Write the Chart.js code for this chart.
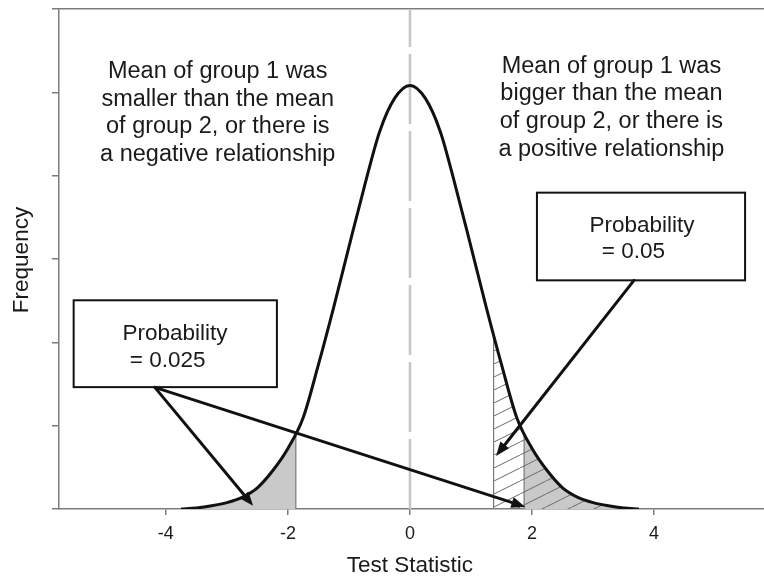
<!DOCTYPE html>
<html lang="en">
<head>
<meta charset="UTF-8">
<title>Test Statistic</title>
<style>
  html, body { margin: 0; padding: 0; background: #fff; }
</style>
</head>
<body>
<canvas id="distChart" width="764" height="576"></canvas>
<script src="https://cdn.jsdelivr.net/npm/chart.js"></script>
<script>
// curve (height of the bell at each test statistic)
const xValues = [-3.75, -3.5, -3.25, -3, -2.75, -2.5, -2.25, -2, -1.75, -1.5, -1.25, -1, -0.75, -0.5, -0.25,
                 0, 0.25, 0.5, 0.75, 1, 1.25, 1.5, 1.75, 2, 2.25, 2.5, 2.75, 3, 3.25, 3.5, 3.75];
const frequency = [0, 0.001, 0.003, 0.006, 0.011, 0.020, 0.036, 0.057, 0.086, 0.136, 0.190, 0.247, 0.303, 0.355, 0.387,
                   0.399, 0.387, 0.355, 0.303, 0.247, 0.190, 0.136, 0.086, 0.057, 0.036, 0.020, 0.011, 0.006, 0.003, 0.001, 0];
const xTicks = [-4, -2, 0, 2, 4];
const yTicks = [0, 0.0785, 0.157, 0.2355, 0.314, 0.3925, 0.471];

// where the shaded tails begin and the curve height there
const leftCut = [-1.87, 0.072];
const hatchCut = [1.37, 0.163];
const rightCut = [1.87, 0.072];

// notes, boxes and arrows (in data units)
const leftNote = ['Mean of group 1 was', 'smaller than the mean', 'of group 2, or there is', 'a negative relationship'];
const rightNote = ['Mean of group 1 was', 'bigger than the mean', 'of group 2, or there is', 'a positive relationship'];
const noteAnchors = [[-3.15, 0.406], [3.30, 0.411]];
const boxes = [[-5.51, 0.1966, -2.18, 0.1148], [2.08, 0.298, 5.49, 0.2154]];
const boxLabels = [['Probability', -3.85, 0.159], ['= 0.025', -3.97, 0.134], ['Probability', 3.80, 0.261], ['= 0.05', 3.66, 0.236]];
const arrows = [[-4.18, 0.1146, -2.57, 0.003], [-4.18, 0.1146, 1.89, 0.002], [3.67, 0.2154, 1.41, 0.050]];

const FONT = '"Liberation Sans", Arial, Helvetica, sans-serif';
const AXIS_GREY = '#7c7c7c';

Chart.defaults.font.family = FONT;
Chart.defaults.color = '#222';

const curve = xValues.map((x, i) => ({ x: x, y: frequency[i] }));

function leftTail(cut) {
  const pts = curve.filter(p => p.x < cut[0]);
  pts.push({ x: cut[0], y: cut[1] });
  return pts;
}
function rightTail(cut) {
  return [{ x: cut[0], y: cut[1] }].concat(curve.filter(p => p.x > cut[0]));
}
function edge(cut) {
  return [{ x: cut[0], y: 0 }, { x: cut[0], y: cut[1] }];
}

function hatchPattern() {
  const c = document.createElement('canvas');
  c.width = 26; c.height = 13;
  const g = c.getContext('2d');
  g.strokeStyle = '#6a6a6a';
  g.lineWidth = 1;
  g.beginPath();
  g.moveTo(-2, 14); g.lineTo(28, -1);
  g.stroke();
  return g.createPattern(c, 'repeat');
}

function arrow(ctx, x1, y1, x2, y2) {
  const a = Math.atan2(y2 - y1, x2 - x1);
  const len = 14, w = 5.5;
  const bx = x2 - len * Math.cos(a), by = y2 - len * Math.sin(a);
  ctx.beginPath();
  ctx.moveTo(x1, y1);
  ctx.lineTo(bx + 2 * Math.cos(a), by + 2 * Math.sin(a));
  ctx.stroke();
  ctx.beginPath();
  ctx.moveTo(x2, y2);
  ctx.lineTo(bx + w * Math.sin(a), by - w * Math.cos(a));
  ctx.lineTo(bx - w * Math.sin(a), by + w * Math.cos(a));
  ctx.closePath();
  ctx.fill();
}

const notesPlugin = {
  id: 'notes',
  afterDatasetsDraw(chart) {
    const ctx = chart.ctx;
    const xs = chart.scales.x, ys = chart.scales.y;
    ctx.save();
    ctx.fillStyle = '#1a1a1a';
    ctx.textAlign = 'center';
    ctx.textBaseline = 'alphabetic';
    ctx.font = '23.5px ' + FONT;
    [leftNote, rightNote].forEach((lines, n) => {
      const cx = xs.getPixelForValue(noteAnchors[n][0]);
      const cy = ys.getPixelForValue(noteAnchors[n][1]);
      lines.forEach((t, i) => ctx.fillText(t, cx, cy + i * 27.7));
    });

    ctx.strokeStyle = '#111';
    ctx.lineWidth = 2;
    boxes.forEach(b => {
      const x1 = xs.getPixelForValue(b[0]), y1 = ys.getPixelForValue(b[1]);
      const x2 = xs.getPixelForValue(b[2]), y2 = ys.getPixelForValue(b[3]);
      ctx.fillStyle = '#fff';
      ctx.fillRect(x1, y1, x2 - x1, y2 - y1);
      ctx.strokeRect(x1, y1, x2 - x1, y2 - y1);
    });
    ctx.fillStyle = '#1a1a1a';
    ctx.font = '22.5px ' + FONT;
    boxLabels.forEach(l => ctx.fillText(l[0], xs.getPixelForValue(l[1]), ys.getPixelForValue(l[2])));

    ctx.strokeStyle = '#111';
    ctx.fillStyle = '#111';
    ctx.lineWidth = 3;
    ctx.lineCap = 'round';
    arrows.forEach(a => arrow(ctx,
      xs.getPixelForValue(a[0]), ys.getPixelForValue(a[1]),
      xs.getPixelForValue(a[2]), ys.getPixelForValue(a[3])));

    // axis titles
    ctx.fillStyle = '#1a1a1a';
    ctx.font = '22.5px ' + FONT;
    ctx.fillText('Test Statistic', xs.getPixelForValue(0), 572);
    ctx.translate(28, (chart.chartArea.top + chart.chartArea.bottom) / 2 + 1);
    ctx.rotate(-Math.PI / 2);
    ctx.fillText('Frequency', 0, 0);
    ctx.restore();
  }
};

const line = { showLine: true, pointRadius: 0, fill: false };

new Chart(document.getElementById('distChart'), {
  type: 'scatter',
  data: {
    datasets: [
      Object.assign({ data: curve, borderColor: '#111', borderWidth: 3, cubicInterpolationMode: 'monotone', order: 0 }, line),
      Object.assign({ data: rightTail(hatchCut), borderWidth: 0, fill: 'origin', backgroundColor: hatchPattern(),
        cubicInterpolationMode: 'monotone', order: 1 }, { showLine: true, pointRadius: 0 }),
      Object.assign({ data: leftTail(leftCut), borderWidth: 0, fill: 'origin', backgroundColor: '#c9c9c9',
        cubicInterpolationMode: 'monotone', order: 2 }, { showLine: true, pointRadius: 0 }),
      Object.assign({ data: rightTail(rightCut), borderWidth: 0, fill: 'origin', backgroundColor: '#c9c9c9',
        cubicInterpolationMode: 'monotone', order: 2 }, { showLine: true, pointRadius: 0 }),
      Object.assign({ data: edge(leftCut), borderColor: '#777', borderWidth: 1.2, order: 1 }, line),
      Object.assign({ data: edge(hatchCut), borderColor: '#777', borderWidth: 1.2, order: 1 }, line),
      Object.assign({ data: edge(rightCut), borderColor: '#777', borderWidth: 1.2, order: 1 }, line),
      Object.assign({ data: [{ x: 0, y: 0 }, { x: 0, y: yTicks[yTicks.length - 1] }], borderColor: '#c6c6c6',
        borderWidth: 2.5, borderDash: [70, 7], order: 3 }, line)
    ]
  },
  options: {
    responsive: false,
    animation: false,
    devicePixelRatio: 1,
    layout: { padding: { top: 9, right: 0, left: 0, bottom: 0 } },
    plugins: { legend: { display: false }, tooltip: { enabled: false } },
    scales: {
      x: {
        type: 'linear', position: 'bottom', min: -5.75, max: 5.8,
        afterBuildTicks: s => { s.ticks = xTicks.map(v => ({ value: v })); },
        afterFit: s => { s.height = 67; },
        ticks: { padding: 8, font: { size: 18 }, color: '#1a1a1a', callback: v => String(v) },
        grid: { drawOnChartArea: false, tickLength: 6, color: AXIS_GREY, lineWidth: 1.5 },
        border: { color: AXIS_GREY, width: 1.5 }
      },
      xTop: {
        type: 'linear', position: 'top', min: -5.75, max: 5.8,
        afterBuildTicks: s => { s.ticks = []; },
        afterFit: s => { s.height = 0; },
        ticks: { display: false },
        grid: { drawOnChartArea: false, drawTicks: false, color: AXIS_GREY, lineWidth: 1.5 },
        border: { color: AXIS_GREY, width: 1.5 }
      },
      y: {
        type: 'linear', min: 0, max: yTicks[yTicks.length - 1],
        afterBuildTicks: s => { s.ticks = yTicks.map(v => ({ value: v })); },
        afterFit: s => { s.width = 59; },
        ticks: { display: false },
        grid: { drawOnChartArea: false, tickLength: 7, color: AXIS_GREY, lineWidth: 1.5 },
        border: { color: AXIS_GREY, width: 1.5 }
      }
    }
  },
  plugins: [notesPlugin]
});
</script>
</body>
</html>
